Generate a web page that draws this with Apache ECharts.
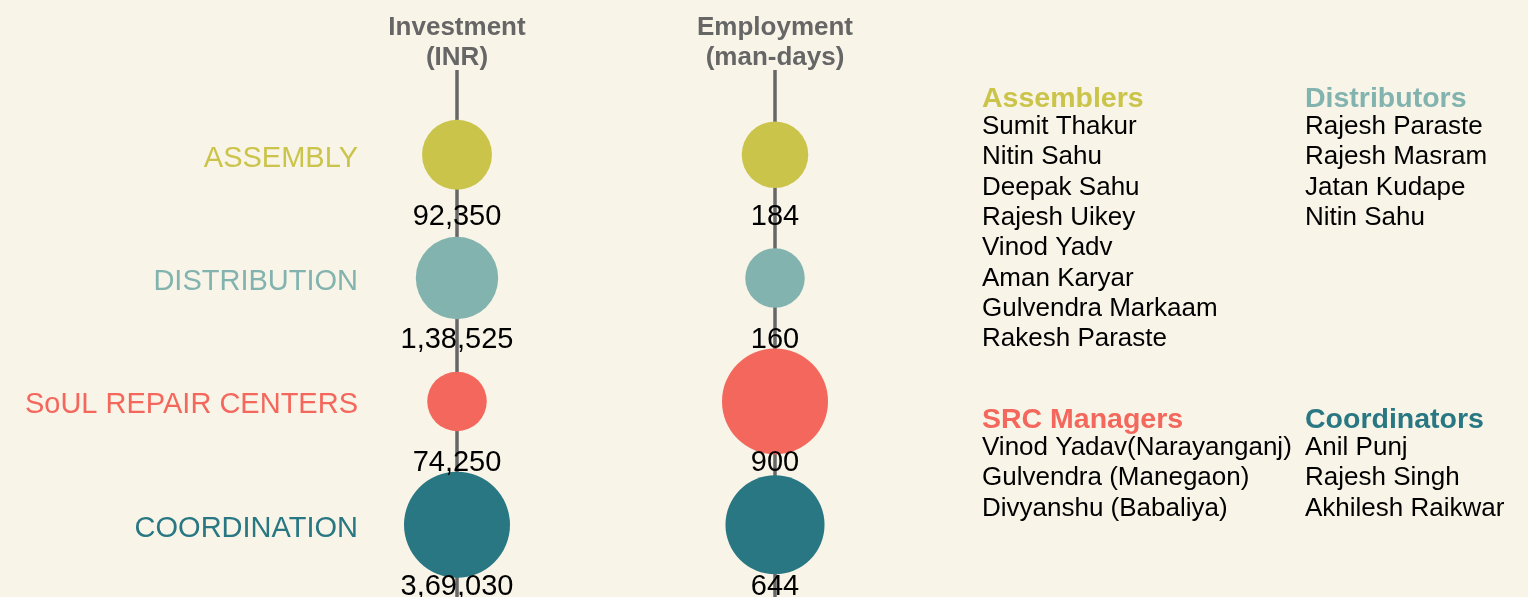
<!DOCTYPE html>
<html><head><meta charset="utf-8">
<script src="https://cdn.jsdelivr.net/npm/echarts@6/dist/echarts.min.js"></script>
<style>html,body{margin:0;padding:0;background:#f8f4e7;}#c{width:1528px;height:597px;}</style>
</head><body><div id="c"></div>
<script>
const categories = ['ASSEMBLY', 'DISTRIBUTION', 'SoUL REPAIR CENTERS', 'COORDINATION'];
const measures = ['Investment\n(INR)', 'Employment\n(man-days)'];
const investment = [92350, 138525, 74250, 369030];
const employment = [184, 160, 900, 644];
const groupTitles = ['Assemblers', 'Distributors', 'SRC Managers', 'Coordinators'];
const assemblers = ['Sumit Thakur', 'Nitin Sahu', 'Deepak Sahu', 'Rajesh Uikey', 'Vinod Yadv', 'Aman Karyar', 'Gulvendra Markaam', 'Rakesh Paraste'];
const distributors = ['Rajesh Paraste', 'Rajesh Masram', 'Jatan Kudape', 'Nitin Sahu'];
const srcManagers = ['Vinod Yadav(Narayanganj)', 'Gulvendra (Manegaon)', 'Divyanshu (Babaliya)'];
const coordinators = ['Anil Punj', 'Rajesh Singh', 'Akhilesh Raikwar'];

const palette = ['#cbc44b', '#82b3ae', '#f4675c', '#287783'];
const FONT = '"Liberation Sans", Arial, sans-serif';

function fmtIN(n) {
  const s = String(n);
  if (s.length <= 3) return s;
  const last3 = s.slice(-3);
  const rest = s.slice(0, -3).replace(/\B(?=(\d{2})+(?!\d))/g, ',');
  return rest + ',' + last3;
}
function sizer(arr) {
  const lmin = Math.log(Math.min(...arr)), lmax = Math.log(Math.max(...arr));
  return v => 59.5 + 46.5 * Math.pow((Math.log(v) - lmin) / (lmax - lmin), 0.75);
}

function makeSeries(name, col, values) {
  const sz = sizer(values);
  return {
    name: name, type: 'scatter', xAxisIndex: 1, yAxisIndex: 1, clip: false, z: 3,
    data: values.map((v, i) => [col, i, v]),
    symbolSize: d => sz(d[2]),
    itemStyle: { color: p => palette[p.dataIndex], opacity: 1 },
    label: {
      show: true, position: 'inside', offset: [0, 62],
      formatter: p => fmtIN(p.value[2]),
      color: '#000', fontSize: 29, fontFamily: FONT
    },
    emphasis: { disabled: true }
  };
}

function groupText(title, names, x, y, color) {
  return [
    { type: 'text', x: x, y: y, z: 10,
      style: { text: title, font: 'bold 28.5px ' + FONT, fill: color, verticalAlign: 'middle', align: 'left' } },
    { type: 'text', x: x, y: y + 28 - 15.15, z: 10,
      style: { text: names.join('\n'), font: '26px ' + FONT, fill: '#000', lineHeight: 30.3, verticalAlign: 'top', align: 'left' } }
  ];
}

const chart = echarts.init(document.getElementById('c'), null, { renderer: 'canvas' });
chart.setOption({
  backgroundColor: '#f8f4e7',
  animation: false,
  textStyle: { fontFamily: FONT },
  grid: [
    { left: 457, right: 753, top: 70, bottom: 0 },
    { left: 457, right: 753, top: 93, bottom: 10.6 }
  ],
  xAxis: [
    { gridIndex: 0, type: 'category', data: measures, boundaryGap: false, position: 'top',
      axisLine: { show: false }, axisTick: { show: false },
      axisLabel: { interval: 0, margin: -3, fontSize: 26, fontWeight: 'bold', color: '#666666', lineHeight: 30, fontFamily: FONT },
      splitLine: { show: true, lineStyle: { color: '#676767', width: 3.5 } } },
    { gridIndex: 1, type: 'category', data: measures, boundaryGap: false, show: false }
  ],
  yAxis: [
    { gridIndex: 0, type: 'value', min: 0, max: 1, show: false },
    { gridIndex: 1, type: 'category', data: categories, inverse: true, boundaryGap: true,
      axisLine: { show: false }, axisTick: { show: false }, splitLine: { show: false },
      axisLabel: { margin: 99, fontSize: 29, fontFamily: FONT, verticalAlign: 'top', lineHeight: 8, color: (v, i) => palette[i] } }
  ],
  series: [
    makeSeries('Investment', 0, investment),
    makeSeries('Employment', 1, employment)
  ],
  graphic: [].concat(
    groupText(groupTitles[0], assemblers, 982, 99, palette[0]),
    groupText(groupTitles[1], distributors, 1305, 99, palette[1]),
    groupText(groupTitles[2], srcManagers, 982, 420, palette[2]),
    groupText(groupTitles[3], coordinators, 1305, 420, palette[3])
  )
});
</script></body></html>
